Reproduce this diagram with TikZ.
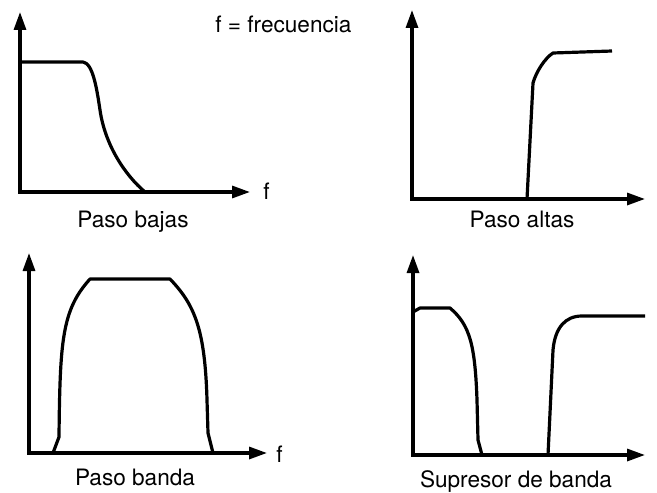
\documentclass[tikz,border=0pt]{standalone}
\usepackage{fontspec}
\setmainfont{TeX Gyre Heros}
\usetikzlibrary{arrows.meta}

\begin{document}
\begin{tikzpicture}[x=0.5pt,y=-0.5pt,>={Triangle[length=9pt,width=6pt]},
  axis/.style={line width=1.6pt,<->},
  resp/.style={line width=1.6pt,line join=round},
  lbl/.style={font=\fontsize{11.3}{13}\selectfont,inner sep=0pt}]
  % Frame
  \useasboundingbox (0,0) rectangle (657,492);
  %
  % Legend
  \node[lbl,anchor=base west] (legend) at (215,33) {f = frecuencia};
  %
  % Paso bajas
  \coordinate (bajasY) at (20,12);
  \coordinate (bajasX) at (250,192);
  \draw[axis] (bajasY) |- (bajasX);
  \node[lbl,anchor=base west] (bajasF) at (263,199) {f};
  \draw[resp] (20,62) -- (83,62)
    .. controls (93,63) and (97,90) .. (100,110)
    .. controls (105,145) and (125,175) .. (145,192);
  \node[lbl,anchor=base] (bajas) at (133,227) {Paso bajas};
  %
  % Paso altas
  \coordinate (altasY) at (412,10);
  \coordinate (altasX) at (645,199);
  \draw[axis] (altasY) |- (altasX);
  \draw[resp] (527,199) -- (533,83)
    .. controls (536,72) and (545,58) .. (553,53) -- (612,51);
  \node[lbl,anchor=base] (altas) at (522,227) {Paso altas};
  %
  % Paso banda
  \coordinate (bandaY) at (29,253);
  \coordinate (bandaX) at (267,453);
  \draw[axis] (bandaY) |- (bandaX);
  \node[lbl,anchor=base west] (bandaF) at (276,462) {f};
  \draw[resp] (53,453) -- (59,437)
    .. controls (60,340) and (62,310) .. (90,279) -- (170,279)
    .. controls (195,305) and (205,330) .. (207,400) -- (208,433) -- (213,453);
  \node[lbl,anchor=base] (banda) at (135,485) {Paso banda};
  %
  % Supresor de banda
  \coordinate (supY) at (413,255);
  \coordinate (supX) at (645,455);
  \draw[axis] (supY) |- (supX);
  \draw[resp] (413,312) -- (420,308) -- (450,308)
    .. controls (470,325) and (475,345) .. (477,400) -- (478,440) -- (482,455)
    -- (548,455) -- (553,350)
    .. controls (555,328) and (565,316) .. (582,316) -- (645,316);
  \node[lbl,anchor=base] (sup) at (516,487) {Supresor de banda};
  %
\end{tikzpicture}
\end{document}
